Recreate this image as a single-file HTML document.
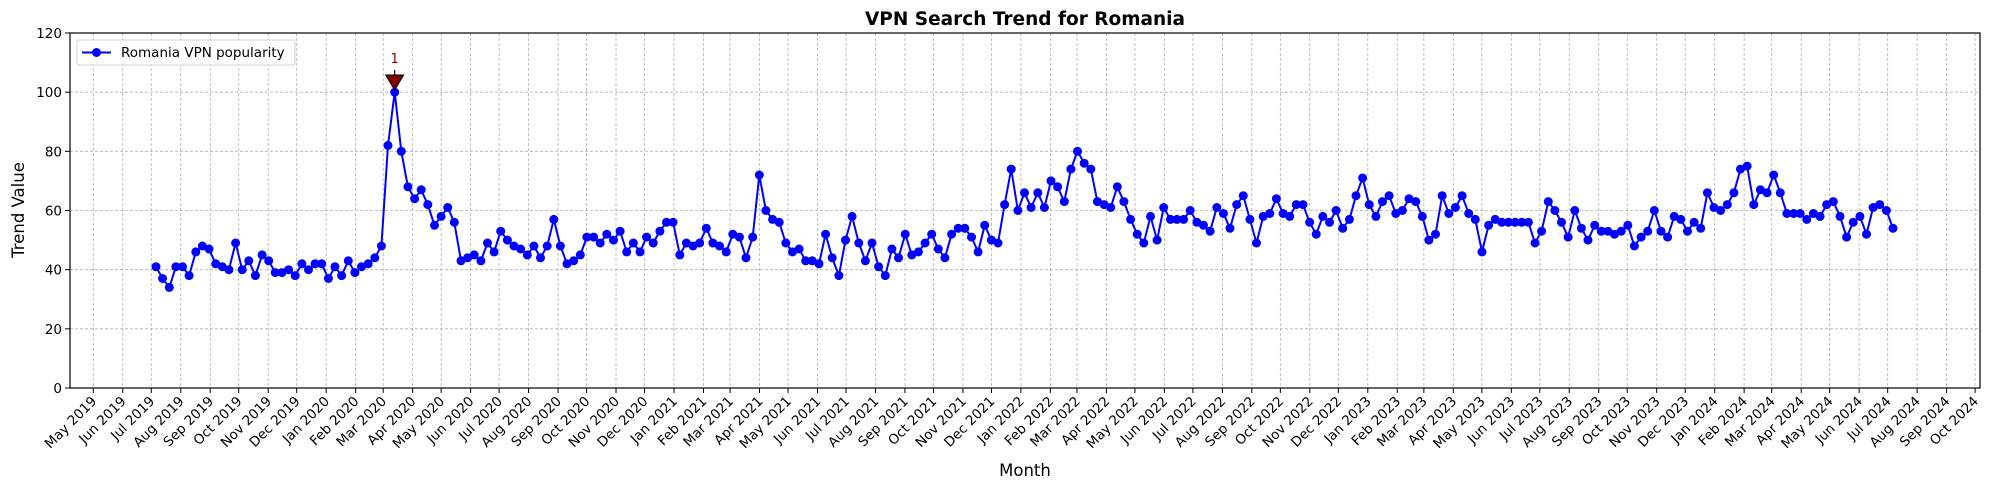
<!DOCTYPE html>
<html><head><meta charset="utf-8"><style>
html,body{margin:0;padding:0;background:#fff;}
svg{display:block;font-family:"DejaVu Sans","Liberation Sans",sans-serif;}
</style></head><body>
<svg id="c" width="1990" height="490" viewBox="0 0 1990 490" xmlns="http://www.w3.org/2000/svg"></svg>
<script>
const svg=document.getElementById('c');
const L=70,R=1980,T=33,B=388;
const y=v=>B-v*(B-T)/120;
const x0=93.3,pxd=0.9504;
const base=Date.UTC(2019,4,1);
let s='';
s+='<rect x="'+L+'" y="'+T+'" width="'+(R-L)+'" height="'+(B-T)+'" fill="#fff"/>';
const mn=['Jan','Feb','Mar','Apr','May','Jun','Jul','Aug','Sep','Oct','Nov','Dec'];
let ticks=[];
for(let yr=2019,m=4;!(yr==2024&&m==10);){
  const d=(Date.UTC(yr,m,1)-base)/864e5;
  ticks.push([x0+d*pxd,mn[m]+' '+yr]);
  m++; if(m==12){m=0;yr++;}
}
// grid
for(const [tx] of ticks) s+='<line x1="'+tx+'" y1="'+T+'" x2="'+tx+'" y2="'+B+'" stroke="#b0b0b0" stroke-width="0.8" stroke-dasharray="3,2"/>';
for(let v=20;v<=120;v+=20) s+='<line x1="'+L+'" y1="'+y(v)+'" x2="'+R+'" y2="'+y(v)+'" stroke="#b0b0b0" stroke-width="0.8" stroke-dasharray="3,2"/>';
// data
const data=[41,37,34,41,41,38,46,48,47,42,41,40,49,40,43,38,45,43,39,39,40,38,42,40,42,42,37,41,38,43,39,41,42,44,48,82,100,80,68,64,67,62,55,58,61,56,43,44,45,43,49,46,53,50,48,47,45,48,44,48,57,48,42,43,45,51,51,49,52,50,53,46,49,46,51,49,53,56,56,45,49,48,49,54,49,48,46,52,51,44,51,72,60,57,56,49,46,47,43,43,42,52,44,38,50,58,49,43,49,41,38,47,44,52,45,46,49,52,47,44,52,54,54,51,46,55,50,49,62,74,60,66,61,66,61,70,68,63,74,80,76,74,63,62,61,68,63,57,52,49,58,50,61,57,57,57,60,56,55,53,61,59,54,62,65,57,49,58,59,64,59,58,62,62,56,52,58,56,60,54,57,65,71,62,58,63,65,59,60,64,63,58,50,52,65,59,61,65,59,57,46,55,57,56,56,56,56,56,49,53,63,60,56,51,60,54,50,55,53,53,52,53,55,48,51,53,60,53,51,58,57,53,56,54,66,61,60,62,66,74,75,62,67,66,72,66,59,59,59,57,59,58,62,63,58,51,56,58,52,61,62,60,54];
const n=data.length;
const xs=i=>156+i*(1893-156)/(n-1);
let pts=data.map((v,i)=>xs(i).toFixed(1)+','+y(v).toFixed(1)).join(' ');
s+='<polyline points="'+pts+'" fill="none" stroke="#0000ff" stroke-width="2"/>';
data.forEach((v,i)=>{s+='<circle cx="'+xs(i).toFixed(1)+'" cy="'+y(v).toFixed(1)+'" r="4.5" fill="#0000ff"/>';});
// annotation
const pi=data.indexOf(100),px=xs(pi);
s+='<line x1="'+px+'" y1="70" x2="'+px+'" y2="76" stroke="#000" stroke-width="1.2"/>';
s+='<polygon points="'+(px-9)+',75 '+(px+9)+',75 '+px+',90" fill="#800000" stroke="#000" stroke-width="1"/>';
s+='<text x="'+px+'" y="63" font-size="13" fill="#8b0000" text-anchor="middle">1</text>';
// axes frame
s+='<rect x="'+L+'" y="'+T+'" width="'+(R-L)+'" height="'+(B-T)+'" fill="none" stroke="#000" stroke-width="1.2"/>';
// y ticks
for(let v=0;v<=120;v+=20){
  s+='<line x1="'+(L-5)+'" y1="'+y(v)+'" x2="'+L+'" y2="'+y(v)+'" stroke="#000"/>';
  s+='<text x="'+(L-8)+'" y="'+(y(v)+5)+'" font-size="13.5" text-anchor="end">'+v+'</text>';
}
// x ticks
for(const [tx,lab] of ticks){
  s+='<line x1="'+tx+'" y1="'+B+'" x2="'+tx+'" y2="'+(B+5)+'" stroke="#000"/>';
  s+='<text transform="translate('+(tx+4)+','+(B+14)+') rotate(-45)" font-size="13.5" text-anchor="end">'+lab+'</text>';
}
// legend
s+='<rect x="77" y="40" width="218" height="25" rx="2" fill="#fff" stroke="#d0d0d0"/>';
s+='<line x1="82" y1="52.5" x2="111" y2="52.5" stroke="#0000ff" stroke-width="2"/>';
s+='<circle cx="96.5" cy="52.5" r="4.5" fill="#0000ff"/>';
s+='<text x="121" y="57" font-size="13.5">Romania VPN popularity</text>';
// titles
s+='<text x="1025" y="25" font-size="18.5" font-weight="bold" text-anchor="middle">VPN Search Trend for Romania</text>';
s+='<text x="1025" y="476" font-size="16.5" text-anchor="middle">Month</text>';
s+='<text transform="translate(24,210) rotate(-90)" font-size="16.5" text-anchor="middle">Trend Value</text>';
svg.innerHTML=s;
</script>
</body></html>
